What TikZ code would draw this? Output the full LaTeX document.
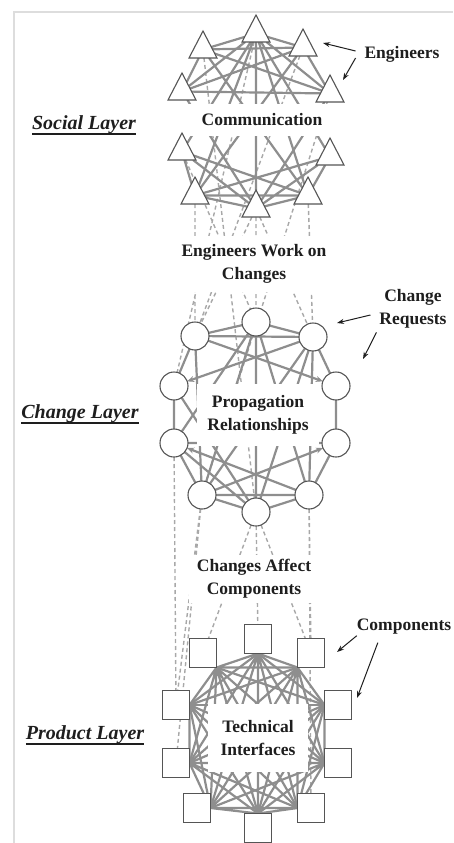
\documentclass[tikz,border=0pt]{standalone}
\usepackage{fontspec}
\setmainfont{Liberation Serif}
\usepackage{tikz}
\usetikzlibrary{shapes.geometric, arrows.meta, backgrounds}

\definecolor{tiegray}{HTML}{8E8E8E}
\definecolor{dashgray}{HTML}{A8A8A8}
\definecolor{shapegray}{HTML}{555555}
\definecolor{rimgray}{HTML}{DDDDDD}
\definecolor{inkblack}{HTML}{1E1E1E}

\begin{document}
\begin{tikzpicture}[
  x=1pt, y=-1pt,
  font=\fontsize{17.5}{23}\selectfont\bfseries,
  every node/.style={align=center, inner sep=0pt, outer sep=0pt, text=inkblack},
  eng/.style={isosceles triangle, isosceles triangle stretches, shape border rotate=90, anchor=apex,
    minimum width=28pt, minimum height=27pt, draw=shapegray, fill=white, line width=1.1pt},
  chg/.style={circle, minimum size=28pt, draw=shapegray, fill=white, line width=1.1pt},
  comp/.style={rectangle, minimum width=27pt, minimum height=29pt, draw=shapegray, fill=white, line width=1.1pt},
  cover/.style={fill=white},
  lyr/.style={font=\fontsize{20}{24}\selectfont\bfseries\itshape},
  ulrule/.style={draw=inkblack, line width=1.4pt},
  tie/.style={draw=tiegray, line width=2.2pt},
  propa/.style={tie, -{Stealth[length=7pt, width=6pt]}},
  dlink/.style={draw=dashgray, line width=1.4pt, dash pattern=on 4pt off 3pt},
  pointer/.style={draw=inkblack, line width=1pt, -{Stealth[length=7pt, width=5pt]}},
  rim/.style={draw=rimgray, line width=2pt}
]
\useasboundingbox (0,0) rectangle (453,843);
\clip (0,0) rectangle (453,843);

% labels that hide the crossing lines
\node[cover, minimum width=150pt, minimum height=32pt] (comm) at (262,120) {Communication};
\node[cover, minimum width=160pt, minimum height=56pt] (workon) at (254,264) {Engineers Work on\\Changes};
\node[cover, minimum width=122pt, minimum height=62pt] (prop) at (258,415) {Propagation\\Relationships};
\node[cover, minimum width=130pt, minimum height=48pt] (affect) at (254,579) {Changes Affect\\Components};
\node[cover, minimum width=100pt, minimum height=68pt] (techif) at (258,738) {Technical\\Interfaces};

% social layer
\node[eng] (s1) at (203,31) {};
\node[eng] (s2) at (256,15) {};
\node[eng] (s3) at (303,29) {};
\node[eng] (s4) at (182,73) {};
\node[eng] (s5) at (330,75) {};
\node[eng] (s6) at (182,133) {};
\node[eng] (s7) at (330,138) {};
\node[eng] (s8) at (195,177) {};
\node[eng] (s9) at (256,190) {};
\node[eng] (s10) at (308,177) {};

% change layer
\node[chg] (c1) at (195,336) {};
\node[chg] (c2) at (256,322) {};
\node[chg] (c3) at (313,337) {};
\node[chg] (c4) at (174,386) {};
\node[chg] (c5) at (336,386) {};
\node[chg] (c6) at (174,443) {};
\node[chg] (c7) at (336,443) {};
\node[chg] (c8) at (202,495) {};
\node[chg] (c9) at (256,512) {};
\node[chg] (c10) at (309,495) {};

% product layer
\node[comp] (p1) at (203,653) {};
\node[comp] (p2) at (258,639) {};
\node[comp] (p3) at (311,653) {};
\node[comp] (p4) at (176,705) {};
\node[comp] (p5) at (338,705) {};
\node[comp] (p6) at (176,763) {};
\node[comp] (p7) at (338,763) {};
\node[comp] (p8) at (197,808) {};
\node[comp] (p9) at (258,828) {};
\node[comp] (p10) at (311,808) {};

% layer names
\node[lyr] (social) at (84,125) {Social Layer};
\node[lyr] (changelyr) at (80,414) {Change Layer};
\node[lyr] (product) at (85,735) {Product Layer};
\draw[ulrule] (social.south west) -- (social.south east);
\draw[ulrule] (changelyr.south west) -- (changelyr.south east);
\draw[ulrule] (product.south west) -- (product.south east);

% callouts
\node[inner xsep=9pt] (englbl) at (402,54) {Engineers};
\node[inner xsep=9pt, inner ysep=4pt] (reqlbl) at (413,309) {Change\\Requests};
\node[inner ysep=1pt] (complbl) at (404,627) {Components};
\coordinate (engtipa) at (323,43);
\coordinate (engtipb) at (343,80);
\coordinate (reqtipa) at (337,323);
\coordinate (reqtipb) at (363,359);
\coordinate (comptipa) at (337,652);
\coordinate (comptipb) at (357,698);
\draw[pointer] ([yshift=3pt]englbl.west) -- (engtipa);
\draw[pointer] ([yshift=-4pt]englbl.west) -- (engtipb);
\draw[pointer] ([yshift=-6pt]reqlbl.west) -- (reqtipa);
\draw[pointer] ([xshift=6pt]reqlbl.south west) -- (reqtipb);
\draw[pointer] (complbl.south west) -- (comptipa);
\draw[pointer] ([xshift=21pt, yshift=-7pt]complbl.south west) -- (comptipb);

\begin{pgfonlayer}{background}
\draw[rim] (14,843) -- (14,12) -- (453,12);

% engineers work on changes
\draw[dlink] (s8) -- (c1) (s9) -- (c2) (s10) -- (c3) (s1) -- (c9) (s3) -- (c1)
  (s6) -- (c2) (s9) -- (c1) (s9) -- (c3) (s2) -- (c4) (s5) -- (c8);
% changes affect components
\draw[dlink] (c8) -- (p4) (c8) -- (p6) (c9) -- (p1) (c9) -- (p2) (c10) -- (p3)
  (c10) -- (p10) (c6) -- (p4) (c9) -- (p3);

% communication
\draw[tie] (s1) -- (s2) (s1) -- (s3) (s1) -- (s4) (s1) -- (s5) (s2) -- (s3)
  (s2) -- (s4) (s2) -- (s5) (s3) -- (s4) (s3) -- (s5) (s4) -- (s5);
\draw[tie] (s6) -- (s8) (s6) -- (s9) (s6) -- (s10) (s7) -- (s8)
  (s7) -- (s9) (s7) -- (s10) (s8) -- (s9) (s8) -- (s10) (s9) -- (s10);
\draw[tie] (s2) -- (s9) (s2) -- (s6) (s2) -- (s7) (s2) -- (s8) (s2) -- (s10)
  (s1) -- (s10) (s3) -- (s8) (s4) -- (s9) (s5) -- (s9);

% propagation
\draw[tie] (c1) -- (c2) (c1) -- (c3) (c2) -- (c3) (c1) -- (c4) (c3) -- (c5)
  (c4) -- (c6) (c5) -- (c7) (c6) -- (c8) (c7) -- (c10) (c8) -- (c9) (c9) -- (c10)
  (c8) -- (c10) (c2) -- (c9) (c2) -- (c8) (c2) -- (c10) (c1) -- (c8) (c3) -- (c8)
  (c3) -- (c10) (c9) -- (c6) (c9) -- (c4) (c9) -- (c3) (c6) -- (c7) (c2) -- (c6);
\draw[propa] (c3) -- (c4);
\draw[propa] (c1) -- (c5);
\draw[propa] (c8) -- (c7);
\draw[propa] (c10) -- (c6);

% technical interfaces
\draw[tie] (p1.south east) -- (p2.south) (p1.south east) -- (p3.south west)
  (p1.south east) -- (p6.east) (p1.south east) -- (p7.west) (p1.south east) -- (p8.east)
  (p1.south east) -- (p9.north) (p1.south east) -- (p10.west) (p1.south east) -- (p4.east);
\draw[tie] (p2.south) -- (p3.south west) (p2.south) -- (p6.east) (p2.south) -- (p7.west)
  (p2.south) -- (p8.east) (p2.south) -- (p9.north) (p2.south) -- (p10.west);
\draw[tie] (p3.south west) -- (p6.east) (p3.south west) -- (p7.west) (p3.south west) -- (p8.east)
  (p3.south west) -- (p9.north) (p3.south west) -- (p10.west) (p3.south west) -- (p5.west);
\draw[tie] (p6.east) -- (p7.west) (p6.east) -- (p8.east) (p6.east) -- (p9.north)
  (p6.east) -- (p10.west) (p6.east) -- (p4.east);
\draw[tie] (p7.west) -- (p8.east) (p7.west) -- (p9.north) (p7.west) -- (p10.west)
  (p7.west) -- (p5.west);
\draw[tie] (p8.east) -- (p9.north) (p8.east) -- (p10.west) (p8.east) -- (p4.east)
  (p9.north) -- (p10.west) (p10.west) -- (p5.west);
\draw[propa] (p2.south) -- (p4.east);
\draw[propa] (p3.south west) -- (p4.east);
\draw[propa] (p7.west) -- (p4.east);
\draw[propa] (p9.north) -- (p4.east);
\draw[propa] (p10.west) -- (p4.east);
\draw[propa] (p5.west) -- (p4.east);
\draw[propa] (p1.south east) -- (p5.west);
\draw[propa] (p2.south) -- (p5.west);
\draw[propa] (p6.east) -- (p5.west);
\draw[propa] (p8.east) -- (p5.west);
\draw[propa] (p9.north) -- (p5.west);
\end{pgfonlayer}
\end{tikzpicture}
\end{document}
